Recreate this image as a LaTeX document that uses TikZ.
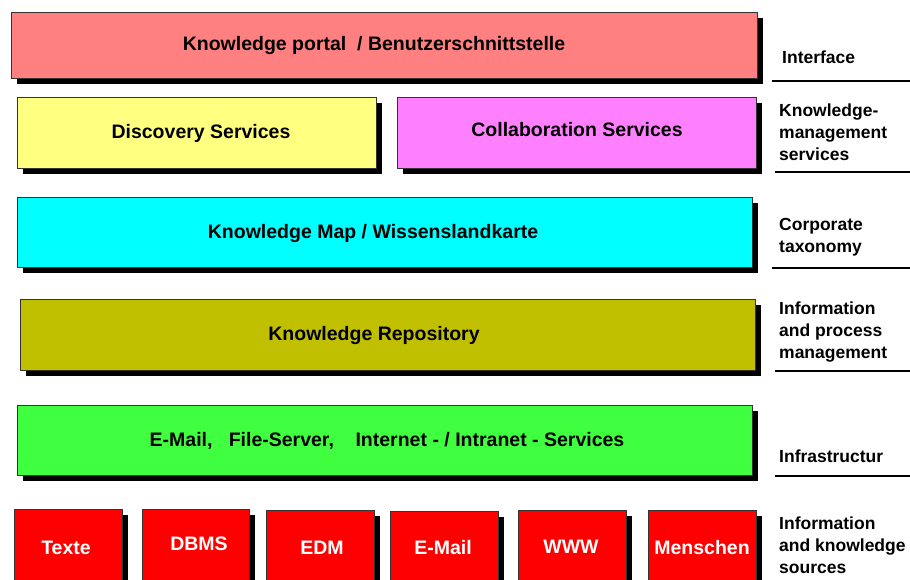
\documentclass[tikz,border=0pt]{standalone}
\usepackage{fontspec}
\setmainfont{Liberation Sans}
\usetikzlibrary{shadows}
\definecolor{cPink}{HTML}{FF8080}
\definecolor{cYellow}{HTML}{FFFF80}
\definecolor{cMagenta}{HTML}{FF80FF}
\definecolor{cCyan}{HTML}{00FFFF}
\definecolor{cOlive}{HTML}{C0C000}
\definecolor{cGreen}{HTML}{40FF40}
\definecolor{cRed}{HTML}{FF0000}
\definecolor{cBorder}{HTML}{333333}
\tikzset{
  layerbox/.style={draw=cBorder, line width=0.8pt, inner sep=0pt, outer sep=0pt,
    anchor=north west, rectangle,
    drop shadow={shadow xshift=6pt, shadow yshift=-6pt, fill=black, opacity=1}},
  boxtext/.style={font=\fontsize{19.5}{22}\selectfont\bfseries, anchor=center,
    text height=14pt, text depth=4pt, inner sep=0pt, yshift=-2pt},
  srctext/.style={boxtext, text=white},
  sidelabel/.style={font=\fontsize{17.5}{22}\selectfont\bfseries, align=left,
    anchor=west, inner sep=0pt},
  rule/.style={line width=1.6pt, black},
}
\begin{document}
\begin{tikzpicture}[x=1pt, y=-1pt]
\useasboundingbox (0,0) rectangle (910,579);
\clip (0,0) rectangle (910,579);
% layer boxes
\node[layerbox, fill=cPink, minimum width=746pt, minimum height=66pt] (portal) at (11,12) {};
\node[layerbox, fill=cYellow, minimum width=359pt, minimum height=71pt] (discovery) at (17,97) {};
\node[layerbox, fill=cMagenta, minimum width=359pt, minimum height=71pt] (collab) at (397,97) {};
\node[layerbox, fill=cCyan, minimum width=735pt, minimum height=70pt] (kmap) at (17,197) {};
\node[layerbox, fill=cOlive, minimum width=735pt, minimum height=71pt] (repo) at (20,299) {};
\node[layerbox, fill=cGreen, minimum width=735pt, minimum height=70pt] (infra) at (17,405) {};
% source boxes
\node[layerbox, fill=cRed, minimum width=108pt, minimum height=90pt] (texte) at (14,509) {};
\node[layerbox, fill=cRed, minimum width=107pt, minimum height=90pt] (dbms) at (142,509) {};
\node[layerbox, fill=cRed, minimum width=108pt, minimum height=90pt] (edm) at (266,510) {};
\node[layerbox, fill=cRed, minimum width=108pt, minimum height=90pt] (email) at (390,511) {};
\node[layerbox, fill=cRed, minimum width=108pt, minimum height=90pt] (www) at (518,510) {};
\node[layerbox, fill=cRed, minimum width=108pt, minimum height=90pt] (menschen) at (648,510) {};
% box texts
\node[boxtext] (t-portal) at (374,43) {Knowledge portal~~/ Benutzerschnittstelle};
\node[boxtext] (t-discovery) at (201,131) {Discovery Services};
\node[boxtext] (t-collab) at (577,129) {Collaboration Services};
\node[boxtext] (t-kmap) at (373,231) {Knowledge Map / Wissenslandkarte};
\node[boxtext] (t-repo) at (374,333) {Knowledge Repository};
\node[boxtext] (t-infra) at (387,439) {E-Mail,~~~File-Server,~~~~Internet - / Intranet - Services};
\node[srctext] (t-texte) at (66,547) {Texte};
\node[srctext] (t-dbms) at (199,543) {DBMS};
\node[srctext] (t-edm) at (322,547) {EDM};
\node[srctext] (t-email) at (443,547) {E-Mail};
\node[srctext] (t-www) at (571,546) {WWW};
\node[srctext] (t-menschen) at (702,547) {Menschen};
% side labels
\node[sidelabel] (l-interface) at (782,57) {Interface};
\node[sidelabel] (l-kms) at (779,132) {Knowledge-\\management\\services};
\node[sidelabel] (l-corp) at (779,237) {Corporate\\taxonomy};
\node[sidelabel] (l-info) at (779,332) {Information\\and process\\management};
\node[sidelabel] (l-infra) at (779,456) {Infrastructur};
\node[sidelabel] (l-sources) at (779,545) {Information\\and knowledge\\sources};
% rules under the side labels
\coordinate (r1a) at (772,81);  \coordinate (r1b) at (910,81);
\coordinate (r2a) at (775,172); \coordinate (r2b) at (910,172);
\coordinate (r3a) at (772,268); \coordinate (r3b) at (910,268);
\coordinate (r4a) at (775,371); \coordinate (r4b) at (910,371);
\coordinate (r5a) at (775,476); \coordinate (r5b) at (910,476);
\draw[rule] (r1a) -- (r1b);
\draw[rule] (r2a) -- (r2b);
\draw[rule] (r3a) -- (r3b);
\draw[rule] (r4a) -- (r4b);
\draw[rule] (r5a) -- (r5b);
\end{tikzpicture}
\end{document}
